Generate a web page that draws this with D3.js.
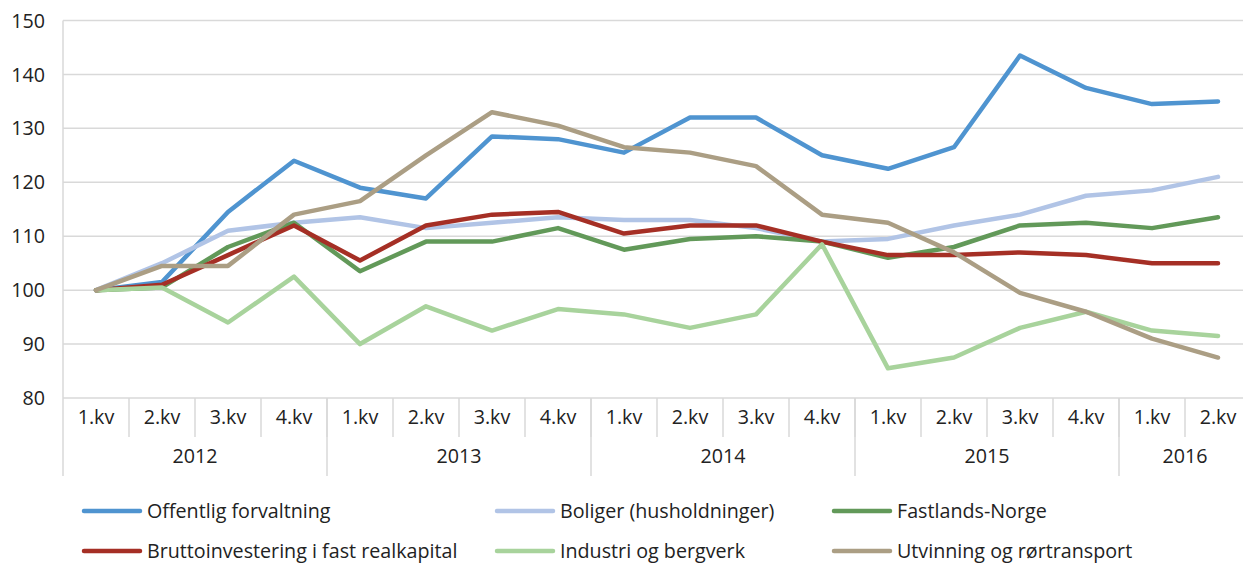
<!DOCTYPE html>
<html>
<head>
<meta charset="utf-8">
<script src="https://cdn.jsdelivr.net/npm/d3@7"></script>
<style>
  body { margin: 0; background: #fff; overflow: hidden; }
  svg { display: block; font-family: "Open Sans", "Noto Sans", sans-serif; }
</style>
</head>
<body>
<div id="chart"></div>
<script>
// quarters and years on the x axis
var quarters = ["1.kv", "2.kv", "3.kv", "4.kv", "1.kv", "2.kv", "3.kv", "4.kv", "1.kv", "2.kv", "3.kv", "4.kv",
  "1.kv", "2.kv", "3.kv", "4.kv", "1.kv", "2.kv"];
var years = ["2012", "2013", "2014", "2015", "2016"];
var yearSizes = [4, 4, 4, 4, 2];
var yTicks = [80, 90, 100, 110, 120, 130, 140, 150];

// series (index, 2012 1.kv = 100)
var seriesNames = ["Offentlig forvaltning", "Boliger (husholdninger)", "Fastlands-Norge",
  "Bruttoinvestering i fast realkapital", "Industri og bergverk", "Utvinning og rørtransport"];
var seriesColors = ["#4f94d0", "#b1c4e6", "#629959", "#a52f25", "#a8d39c", "#ab9e84"];

var offentlig = [100, 101.5, 114.5, 124, 119, 117, 128.5, 128, 125.5, 132, 132, 125, 122.5, 126.5, 143.5, 137.5, 134.5, 135];
var boliger = [100, 105, 111, 112.5, 113.5, 111.5, 112.5, 113.5, 113, 113, 111.5, 109, 109.5, 112, 114, 117.5, 118.5, 121];
var fastland = [100, 100.5, 108, 112.5, 103.5, 109, 109, 111.5, 107.5, 109.5, 110, 109, 106, 108, 112, 112.5, 111.5, 113.5];
var brutto = [100, 101, 106.5, 112, 105.5, 112, 114, 114.5, 110.5, 112, 112, 109, 106.5, 106.5, 107, 106.5, 105, 105];
var industri = [100, 100.5, 94, 102.5, 90, 97, 92.5, 96.5, 95.5, 93, 95.5, 108.5, 85.5, 87.5, 93, 96, 92.5, 91.5];
var utvinning = [100, 104.5, 104.5, 114, 116.5, 125, 133, 130.5, 126.5, 125.5, 123, 114, 112.5, 107, 99.5, 96, 91, 87.5];

var seriesValues = [offentlig, boliger, fastland, brutto, industri, utvinning];

var W = 1243, H = 563;
var plotLeft = 63, plotRight = 1251, plotTop = 20.5, plotBottom = 398;
var fontSize = 19.7;

var svg = d3.select("#chart").append("svg")
  .attr("width", W)
  .attr("height", H);

var x = d3.scaleBand()
  .domain(d3.range(quarters.length))
  .range([plotLeft, plotRight]);

var y = d3.scaleLinear()
  .domain([80, 150])
  .range([plotBottom, plotTop]);

// horizontal grid
svg.append("g")
  .selectAll("line")
  .data(yTicks)
  .enter().append("line")
  .attr("x1", plotLeft)
  .attr("x2", plotRight)
  .attr("y1", function(d) { return y(d); })
  .attr("y2", function(d) { return y(d); })
  .attr("stroke", "#d9d9d9")
  .attr("stroke-width", 1.5);

// y axis labels
svg.append("g")
  .selectAll("text")
  .data(yTicks)
  .enter().append("text")
  .attr("x", 45)
  .attr("y", function(d) { return y(d); })
  .attr("dy", "0.36em")
  .attr("text-anchor", "end")
  .attr("font-size", fontSize)
  .attr("fill", "#222")
  .text(function(d) { return d; });

// left axis line
svg.append("line")
  .attr("x1", plotLeft).attr("x2", plotLeft)
  .attr("y1", plotTop).attr("y2", 476)
  .attr("stroke", "#d9d9d9")
  .attr("stroke-width", 1.5);

// quarter separators
svg.append("g")
  .selectAll("line")
  .data(d3.range(1, quarters.length))
  .enter().append("line")
  .attr("x1", function(i) { return x(i); })
  .attr("x2", function(i) { return x(i); })
  .attr("y1", plotBottom)
  .attr("y2", 437)
  .attr("stroke", "#d9d9d9")
  .attr("stroke-width", 1.5);

// quarter labels
svg.append("g")
  .selectAll("text")
  .data(quarters)
  .enter().append("text")
  .attr("x", function(d, i) { return x(i) + x.bandwidth() / 2; })
  .attr("y", 424)
  .attr("text-anchor", "middle")
  .attr("font-size", fontSize)
  .attr("fill", "#222")
  .text(function(d) { return d; });

// year groups
var yearStart = [];
var acc = 0;
yearSizes.forEach(function(n) { yearStart.push(acc); acc += n; });

svg.append("g")
  .selectAll("line")
  .data(yearStart.slice(1))
  .enter().append("line")
  .attr("x1", function(i) { return x(i); })
  .attr("x2", function(i) { return x(i); })
  .attr("y1", plotBottom)
  .attr("y2", 476)
  .attr("stroke", "#d9d9d9")
  .attr("stroke-width", 1.5);

svg.append("g")
  .selectAll("text")
  .data(years)
  .enter().append("text")
  .attr("x", function(d, i) {
    return x(yearStart[i]) + x.bandwidth() * yearSizes[i] / 2;
  })
  .attr("y", 463)
  .attr("text-anchor", "middle")
  .attr("font-size", fontSize)
  .attr("fill", "#222")
  .text(function(d) { return d; });

// lines
var line = d3.line()
  .x(function(d, i) { return x(i) + x.bandwidth() / 2; })
  .y(function(d) { return y(d); });

svg.append("g")
  .selectAll("path")
  .data(seriesValues)
  .enter().append("path")
  .attr("d", line)
  .attr("fill", "none")
  .attr("stroke", function(d, i) { return seriesColors[i]; })
  .attr("stroke-width", 4.5)
  .attr("stroke-linejoin", "round")
  .attr("stroke-linecap", "round");

// legend
var legendX = [84, 497, 834];
var legendY = [511, 551];

var legend = svg.append("g")
  .selectAll("g")
  .data(seriesNames)
  .enter().append("g")
  .attr("transform", function(d, i) {
    return "translate(" + legendX[i % 3] + "," + legendY[Math.floor(i / 3)] + ")";
  });

legend.append("line")
  .attr("x1", 0).attr("x2", 56)
  .attr("y1", 0).attr("y2", 0)
  .attr("stroke", function(d, i) { return seriesColors[i]; })
  .attr("stroke-width", 4.5)
  .attr("stroke-linecap", "round");

legend.append("text")
  .attr("x", 63)
  .attr("y", 0)
  .attr("dy", "0.36em")
  .attr("font-size", fontSize)
  .attr("fill", "#222")
  .text(function(d) { return d; });
</script>
</body>
</html>
